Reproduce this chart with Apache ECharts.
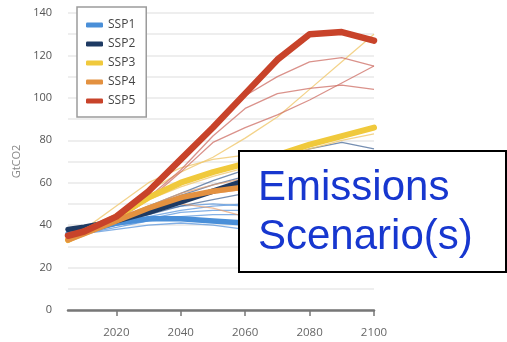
<!DOCTYPE html>
<html>
<head>
<meta charset="utf-8">
<script src="https://cdn.jsdelivr.net/npm/echarts@6/dist/echarts.min.js"></script>
<style>
  html, body { margin: 0; padding: 0; background: #fff; }
  #chart { width: 507px; height: 342px; }
</style>
</head>
<body>
<div id="chart"></div>
<script>
// Years sampled by every pathway
const years = [2005, 2010, 2020, 2030, 2040, 2050, 2060, 2070, 2080, 2090, 2100];

// Marker pathways (GtCO2)
const ssp1 = [36, 37, 41, 43, 43, 42, 41, 37, 33, 29, 26];
const ssp2 = [38, 39, 42, 46, 51, 56, 61, 65, 69, 72, 74];
const ssp3 = [33, 37, 44, 53, 60, 65, 69, 73, 78, 82, 86];
const ssp4 = [33, 36, 42, 48, 53, 56, 58, 59, 59, 58, 57];
const ssp5 = [35, 37, 44, 56, 71, 86, 102, 118, 130, 131, 127];

// Other model runs per family
const ssp1Runs = [
  [36, 37, 40, 44, 47, 49, 50, 48, 44, 40, 36],
  [36, 37, 40, 43, 46, 47, 47, 45, 41, 37, 33],
  [35, 36, 39, 42, 44, 45, 45, 43, 40, 36, 32],
  [36, 37, 40, 42, 43, 42, 40, 37, 33, 29, 25],
  [36, 38, 42, 46, 49, 50, 49, 46, 42, 38, 34],
  [35, 36, 38, 40, 41, 40, 38, 35, 31, 27, 24]
];
const ssp2Runs = [
  [37, 39, 43, 49, 55, 61, 66, 71, 76, 79, 76],
  [38, 39, 43, 48, 54, 59, 63, 66, 68, 69, 70],
  [37, 38, 42, 47, 52, 56, 60, 63, 65, 66, 66],
  [37, 38, 41, 45, 49, 52, 55, 57, 58, 58, 57]
];
const ssp3Runs = [
  [33, 36, 45, 56, 65, 72, 81, 91, 104, 117, 130],
  [33, 38, 49, 60, 67, 71, 73, 74, 74, 73, 72],
  [33, 36, 44, 52, 58, 63, 67, 72, 76, 80, 83]
];
const ssp4Runs = [
  [33, 36, 42, 49, 55, 59, 62, 64, 65, 66, 66],
  [33, 37, 44, 48, 50, 48, 44, 40, 36, 33, 30],
  [32, 35, 41, 47, 52, 55, 57, 58, 58, 57, 55]
];
const ssp5Runs = [
  [35, 37, 45, 55, 70, 87, 101, 110, 117, 119, 115],
  [35, 37, 44, 53, 66, 82, 95, 102, 104.5, 106, 104],
  [34, 36, 42, 52, 65, 79, 86, 92, 99, 107, 115]
];

const familyNames = ['SSP1', 'SSP2', 'SSP3', 'SSP4', 'SSP5'];
const yTicks = [0, 20, 40, 60, 80, 100, 120, 140];
const xTicks = [2020, 2040, 2060, 2080, 2100];

const colors = {
  SSP1: '#4a8fd8',
  SSP2: '#1e3a63',
  SSP3: '#f0c93c',
  SSP4: '#e39140',
  SSP5: '#c8432a'
};
const runColors = {
  SSP1: 'rgba(90,150,220,0.75)',
  SSP2: 'rgba(60,95,145,0.7)',
  SSP3: 'rgba(240,200,110,0.8)',
  SSP4: 'rgba(232,160,110,0.7)',
  SSP5: 'rgba(205,110,100,0.75)'
};

const pairs = vals => years.map((y, i) => [y, vals[i]]);

const markers = { SSP1: ssp1, SSP2: ssp2, SSP3: ssp3, SSP4: ssp4, SSP5: ssp5 };
const runs = { SSP1: ssp1Runs, SSP2: ssp2Runs, SSP3: ssp3Runs, SSP4: ssp4Runs, SSP5: ssp5Runs };

const series = [];
familyNames.forEach(name => {
  runs[name].forEach((r, k) => {
    series.push({
      name: name + ' run ' + (k + 1),
      type: 'line',
      data: pairs(r),
      symbol: 'none',
      silent: true,
      z: 2,
      lineStyle: { color: runColors[name], width: 1.3 }
    });
  });
});
const markerWidths = { SSP1: 5.5, SSP2: 5.5, SSP3: 6, SSP4: 5.5, SSP5: 6.5 };
familyNames.forEach((name, k) => {
  series.push({
    name: name,
    type: 'line',
    data: pairs(markers[name]),
    symbol: 'none',
    color: colors[name],
    z: 3 + k,
    lineStyle: { color: colors[name], width: markerWidths[name], cap: 'round', join: 'round' }
  });
});

const boxFont = '42px "Liberation Sans", Arial, sans-serif';

const chart = echarts.init(document.getElementById('chart'), null, { renderer: 'canvas' });
chart.setOption({
  animation: false,
  backgroundColor: '#fff',
  grid: { left: 68, right: 133, top: 13, bottom: 32 },
  legend: {
    data: familyNames,
    orient: 'vertical',
    left: 77,
    top: 7,
    padding: [11, 11, 9, 9],
    itemGap: 5,
    itemWidth: 17,
    itemHeight: 5,
    itemTextGap: 5,
    icon: 'roundRect',
    borderColor: '#9c9c9c',
    borderWidth: 1.5,
    backgroundColor: '#fff',
    selectedMode: false,
    textStyle: { fontFamily: 'Open Sans', fontSize: 12, color: '#444', lineHeight: 14 }
  },
  xAxis: {
    type: 'value',
    min: 2005,
    max: 2100,
    axisLine: { show: true, lineStyle: { color: '#777', width: 2.5 } },
    axisTick: { show: true, customValues: xTicks, length: 6, lineStyle: { color: '#777', width: 1.5 } },
    axisLabel: {
      customValues: xTicks,
      margin: 17,
      fontFamily: 'Open Sans',
      fontSize: 11.5,
      color: '#666',
      formatter: v => String(v)
    },
    splitLine: { show: false }
  },
  yAxis: {
    type: 'value',
    min: 0,
    max: 140,
    interval: 10,
    name: 'GtCO2',
    nameLocation: 'middle',
    nameGap: 45,
    nameTextStyle: { fontFamily: 'Open Sans', fontSize: 11, color: '#888' },
    axisLine: { show: false },
    axisTick: { show: false },
    axisLabel: {
      margin: 16,
      fontFamily: 'Open Sans',
      fontSize: 11,
      color: '#555',
      formatter: v => (yTicks.indexOf(v) >= 0 ? String(v) : '')
    },
    splitLine: { show: true, lineStyle: { color: '#e9e9e9', width: 1.5 } }
  },
  series: series,
  graphic: [
    {
      type: 'rect',
      z: 100,
      zlevel: 1,
      shape: { x: 239, y: 151, width: 267, height: 121 },
      style: { fill: '#fff', stroke: '#000', lineWidth: 2 }
    },
    {
      type: 'text',
      z: 101,
      zlevel: 1,
      x: 258,
      y: 188,
      style: { text: 'Emissions', font: boxFont, fill: '#1737cf', verticalAlign: 'middle' }
    },
    {
      type: 'text',
      z: 101,
      zlevel: 1,
      x: 258,
      y: 237,
      style: { text: 'Scenario(s)', font: boxFont, fill: '#1737cf', verticalAlign: 'middle' }
    }
  ]
});
</script>
</body>
</html>
